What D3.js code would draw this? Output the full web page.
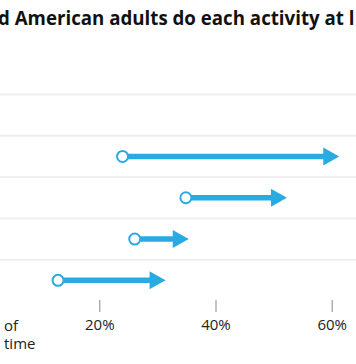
<!DOCTYPE html>
<html>
<head>
<meta charset="utf-8">
<script src="https://cdn.jsdelivr.net/npm/d3@7"></script>
<style>
  body { margin: 0; background: #fff; }
  svg { display: block; font-family: "Open Sans", "Noto Sans", sans-serif; }
</style>
</head>
<body>
<div id="chart"></div>
<script>
// visible part of the title and the axis note (the reference is cropped at both sides)
var titleText = "d American adults do each activity at l";
var axisNote = ["of", "time"];

// rows of the chart, top to bottom; the first row has no arrow in view
var rows = ["r0", "r1", "r2", "r3", "r4"];
var startValues = [null, 24.0, 34.9, 26.1, 12.9];
var endValues = [null, 61.3, 52.3, 35.4, 31.4];
var tickValues = [20, 40, 60];

var width = 356, height = 364;
var blue = "#29abe2";

var svg = d3.select("#chart").append("svg")
    .attr("width", width)
    .attr("height", height);

var x = d3.scaleLinear()
    .domain([0, 60])
    .range([-16.9, 331.7]);

var y = d3.scaleBand()
    .domain(rows)
    .range([94.5, 94.5 + 41.3 * rows.length]);

svg.append("text")
    .attr("x", -2)
    .attr("y", 25)
    .attr("font-size", 18.7)
    .attr("font-weight", "bold")
    .attr("fill", "#111")
    .text(titleText);

// gridlines at the top of each row
svg.selectAll("line.grid")
    .data(rows)
    .enter()
    .append("line")
    .attr("class", "grid")
    .attr("x1", 0)
    .attr("x2", width)
    .attr("y1", function(d){ return y(d); })
    .attr("y2", function(d){ return y(d); })
    .attr("stroke", "#efefef")
    .attr("stroke-width", 2);

var data = rows.map(function(r, i){
    return {row: r, start: startValues[i], end: endValues[i]};
}).filter(function(d){ return d.start != null; });

var headLen = 16, headHalf = 9;

var g = svg.selectAll("g.arrow")
    .data(data)
    .enter()
    .append("g")
    .attr("class", "arrow")
    .attr("transform", function(d){
        return "translate(0," + (y(d.row) + y.bandwidth() / 2) + ")";
    });

g.append("line")
    .attr("x1", function(d){ return x(d.start); })
    .attr("x2", function(d){ return x(d.end) - headLen + 1; })
    .attr("stroke", blue)
    .attr("stroke-width", 5.5);

g.append("path")
    .attr("d", function(d){
        var t = x(d.end);
        return "M" + t + ",0L" + (t - headLen) + "," + (-headHalf) + "L" + (t - headLen) + "," + headHalf + "Z";
    })
    .attr("fill", blue);

g.append("circle")
    .attr("cx", function(d){ return x(d.start); })
    .attr("r", 5.5)
    .attr("fill", "#fff")
    .attr("stroke", blue)
    .attr("stroke-width", 2);

// x axis
var axis = svg.append("g")
    .attr("transform", "translate(0,300)")
    .call(d3.axisBottom(x)
        .tickValues(tickValues)
        .tickSize(12)
        .tickFormat(function(d){ return d + "%"; }));

axis.select(".domain").remove();
axis.selectAll(".tick line").attr("stroke", "#888");
axis.selectAll(".tick text")
    .attr("y", 25)
    .attr("dy", "0.32em")
    .attr("font-size", 15)
    .attr("font-family", "Open Sans, sans-serif")
    .attr("fill", "#222");

svg.append("text")
    .attr("y", 331)
    .attr("font-size", 15)
    .attr("fill", "#222")
    .selectAll("tspan")
    .data(axisNote)
    .enter()
    .append("tspan")
    .attr("x", 4)
    .attr("dy", function(d, i){ return i ? 17.5 : 0; })
    .text(function(d){ return d; });
</script>
</body>
</html>
